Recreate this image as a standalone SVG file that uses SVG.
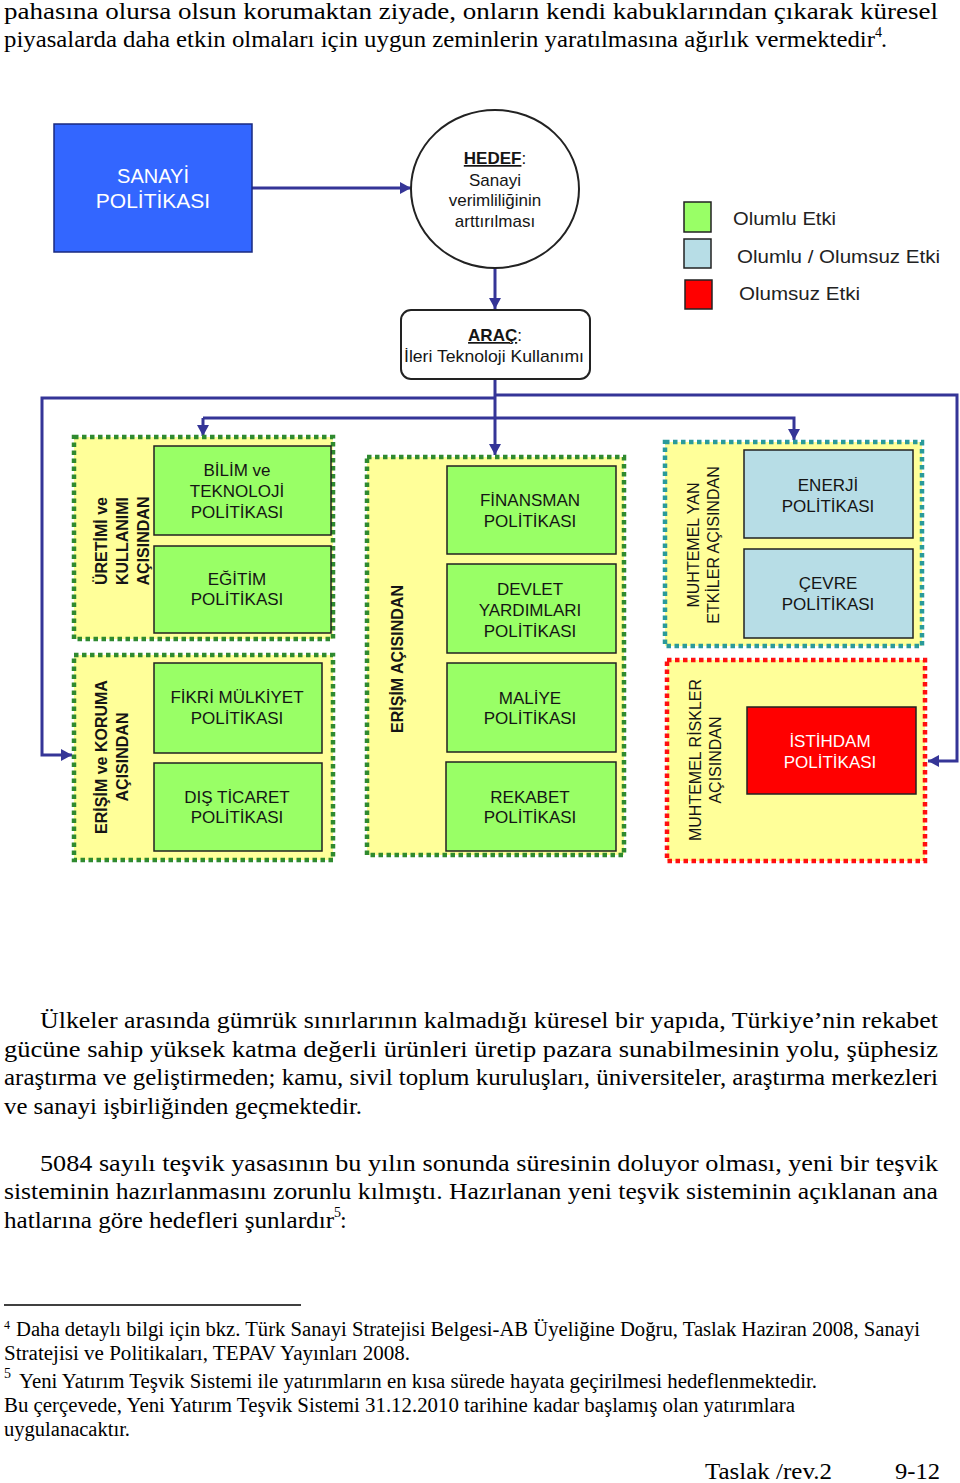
<svg xmlns="http://www.w3.org/2000/svg" width="960" height="1483" viewBox="0 0 960 1483">
<style>
.body{font-family:"Liberation Serif","Times New Roman",serif;font-size:24px;fill:#000}
.foot{font-family:"Liberation Serif","Times New Roman",serif;font-size:20px;fill:#000}
.sup{font-family:"Liberation Serif","Times New Roman",serif;font-size:14px;fill:#000}
.t{font-family:"Liberation Sans",Arial,sans-serif;font-size:17px;text-anchor:middle;fill:#151515}
.rb{font-family:"Liberation Sans",Arial,sans-serif;font-size:16px;font-weight:bold;text-anchor:middle;fill:#151515}
.rr{font-family:"Liberation Sans",Arial,sans-serif;font-size:16px;text-anchor:middle;fill:#151515}
.leg{font-family:"Liberation Sans",Arial,sans-serif;font-size:19px;fill:#222}
.grp{fill:#ffff99;stroke-width:4.5;stroke-dasharray:4.5 3.5}
.gg{stroke:#2f8a2f}
.gt{stroke:#2a9a9a}
.gr{stroke:#ff1010}
.box{stroke:#222;stroke-width:1.5}
.pos{fill:#99ff66}
.mix{fill:#b7dde6}
.neg{fill:#ff0000}
.conn{fill:none;stroke:#353597;stroke-width:3}
</style>
<defs>
<marker id="arr" markerUnits="userSpaceOnUse" markerWidth="12" markerHeight="12" refX="11" refY="6" orient="auto">
<path d="M0,0 L11,6 L0,12 z" fill="#353597"/>
</marker>
</defs>
<rect x="0" y="0" width="960" height="1483" fill="#fff"/>

<g id="text-top">
<text class="body" x="4" y="19" textLength="934" lengthAdjust="spacingAndGlyphs">pahasına olursa olsun korumaktan ziyade, onların kendi kabuklarından çıkarak küresel</text>
<text class="body" x="4" y="47" textLength="871" lengthAdjust="spacingAndGlyphs">piyasalarda daha etkin olmaları için uygun zeminlerin yaratılmasına ağırlık vermektedir</text>
<text class="sup" x="875" y="37">4</text>
<text class="body" x="881" y="47">.</text>
</g>

<g id="connectors">
<path class="conn" d="M252,188 L411,188" marker-end="url(#arr)"/>
<path class="conn" d="M495,268 L495,309" marker-end="url(#arr)"/>
<path class="conn" d="M495,379 L495,455" marker-end="url(#arr)"/>
<path class="conn" d="M495,398 L42,398 L42,755 L72,755" marker-end="url(#arr)"/>
<path class="conn" d="M495,395 L957,395 L957,761 L928,761" marker-end="url(#arr)"/>
<path class="conn" d="M203,418 L203,436" marker-end="url(#arr)"/>
<path class="conn" d="M203,418 L794,418 L794,440" marker-end="url(#arr)"/>
</g>

<g id="sanayi">
<rect x="54" y="124" width="198" height="128" fill="#3366ff" stroke="#1a2a80" stroke-width="1.5"/>
<text class="t" x="153" y="183" style="font-size:20px;fill:#fff">SANAYİ</text>
<text class="t" x="153" y="208" style="font-size:21px;fill:#fff">POLİTİKASI</text>
</g>

<g id="hedef">
<ellipse cx="495" cy="189" rx="84" ry="79" fill="#fff" stroke="#222" stroke-width="2"/>
<text class="t" x="495" y="164"><tspan font-weight="bold" text-decoration="underline">HEDEF</tspan>:</text>
<text class="t" x="495" y="186">Sanayi</text>
<text class="t" x="495" y="206">verimliliğinin</text>
<text class="t" x="495" y="227">arttırılması</text>
</g>

<g id="arac">
<rect x="401" y="310" width="189" height="69" rx="10" fill="#fff" stroke="#222" stroke-width="2"/>
<text class="t" x="495" y="341"><tspan font-weight="bold" text-decoration="underline">ARAÇ</tspan>:</text>
<text class="t" x="494" y="362" textLength="180" lengthAdjust="spacingAndGlyphs">İleri Teknoloji Kullanımı</text>
</g>

<g id="legend">
<rect x="684" y="202" width="27" height="30" fill="#99ff66" stroke="#222" stroke-width="1.5"/>
<text class="leg" x="733" y="225" textLength="103" lengthAdjust="spacingAndGlyphs">Olumlu Etki</text>
<rect x="684" y="239" width="27" height="29" fill="#b7dde6" stroke="#222" stroke-width="1.5"/>
<text class="leg" x="737" y="263" textLength="203" lengthAdjust="spacingAndGlyphs">Olumlu / Olumsuz Etki</text>
<rect x="685" y="280" width="27" height="29" fill="#ff0000" stroke="#222" stroke-width="1.5"/>
<text class="leg" x="739" y="300" textLength="121" lengthAdjust="spacingAndGlyphs">Olumsuz Etki</text>
</g>

<g id="grp-uretim">
<rect class="grp gg" x="74" y="437" width="259" height="202"/>
<text class="rb" transform="translate(107,541) rotate(-90)">ÜRETİMİ ve</text>
<text class="rb" transform="translate(128,541) rotate(-90)">KULLANIMI</text>
<text class="rb" transform="translate(149,541) rotate(-90)">AÇISINDAN</text>
</g>
<g id="bilim">
<rect class="box pos" x="154" y="446" width="177" height="89"/>
<text class="t" x="237" y="476">BİLİM ve</text>
<text class="t" x="237" y="497">TEKNOLOJİ</text>
<text class="t" x="237" y="518">POLİTİKASI</text>
</g>
<g id="egitim">
<rect class="box pos" x="154" y="546" width="177" height="87"/>
<text class="t" x="237" y="585">EĞİTİM</text>
<text class="t" x="237" y="605">POLİTİKASI</text>
</g>

<g id="grp-koruma">
<rect class="grp gg" x="74" y="655" width="259" height="205"/>
<text class="rb" transform="translate(107,757) rotate(-90)">ERİŞİM ve KORUMA</text>
<text class="rb" transform="translate(128,757) rotate(-90)">AÇISINDAN</text>
</g>
<g id="fikri">
<rect class="box pos" x="154" y="663" width="168" height="90"/>
<text class="t" x="237" y="703">FİKRİ MÜLKİYET</text>
<text class="t" x="237" y="724">POLİTİKASI</text>
</g>
<g id="dis-ticaret">
<rect class="box pos" x="154" y="763" width="168" height="88"/>
<text class="t" x="237" y="803">DIŞ TİCARET</text>
<text class="t" x="237" y="823">POLİTİKASI</text>
</g>

<g id="grp-erisim">
<rect class="grp gg" x="367" y="457" width="257" height="398"/>
<text class="rb" transform="translate(403,659) rotate(-90)">ERİŞİM AÇISINDAN</text>
</g>
<g id="finansman">
<rect class="box pos" x="447" y="466" width="169" height="88"/>
<text class="t" x="530" y="506">FİNANSMAN</text>
<text class="t" x="530" y="527">POLİTİKASI</text>
</g>
<g id="devlet">
<rect class="box pos" x="447" y="564" width="169" height="89"/>
<text class="t" x="530" y="595">DEVLET</text>
<text class="t" x="530" y="616">YARDIMLARI</text>
<text class="t" x="530" y="637">POLİTİKASI</text>
</g>
<g id="maliye">
<rect class="box pos" x="447" y="663" width="169" height="89"/>
<text class="t" x="530" y="704">MALİYE</text>
<text class="t" x="530" y="724">POLİTİKASI</text>
</g>
<g id="rekabet">
<rect class="box pos" x="446" y="762" width="170" height="89"/>
<text class="t" x="530" y="803">REKABET</text>
<text class="t" x="530" y="823">POLİTİKASI</text>
</g>

<g id="grp-yan-etki">
<rect class="grp gt" x="665" y="442" width="257" height="204"/>
<text class="rr" transform="translate(699,545) rotate(-90)">MUHTEMEL YAN</text>
<text class="rr" transform="translate(719,545) rotate(-90)">ETKİLER AÇISINDAN</text>
</g>
<g id="enerji">
<rect class="box mix" x="744" y="450" width="169" height="88"/>
<text class="t" x="828" y="491">ENERJİ</text>
<text class="t" x="828" y="512">POLİTİKASI</text>
</g>
<g id="cevre">
<rect class="box mix" x="744" y="549" width="169" height="89"/>
<text class="t" x="828" y="589">ÇEVRE</text>
<text class="t" x="828" y="610">POLİTİKASI</text>
</g>

<g id="grp-riskler">
<rect class="grp gr" x="667" y="660" width="258" height="201"/>
<text class="rr" transform="translate(701,760) rotate(-90)">MUHTEMEL RİSKLER</text>
<text class="rr" transform="translate(721,760) rotate(-90)">AÇISINDAN</text>
</g>
<g id="istihdam">
<rect class="box neg" x="747" y="707" width="169" height="87"/>
<text class="t" x="830" y="747" style="fill:#fff">İSTİHDAM</text>
<text class="t" x="830" y="768" style="fill:#fff">POLİTİKASI</text>
</g>

<g id="text-body">
<text class="body" x="40" y="1028" textLength="898" lengthAdjust="spacingAndGlyphs">Ülkeler arasında gümrük sınırlarının kalmadığı küresel bir yapıda, Türkiye’nin rekabet</text>
<text class="body" x="4" y="1057" textLength="934" lengthAdjust="spacingAndGlyphs">gücüne sahip yüksek katma değerli ürünleri üretip pazara sunabilmesinin yolu, şüphesiz</text>
<text class="body" x="4" y="1085" textLength="934" lengthAdjust="spacingAndGlyphs">araştırma ve geliştirmeden; kamu, sivil toplum kuruluşları, üniversiteler, araştırma merkezleri</text>
<text class="body" x="4" y="1114" textLength="358" lengthAdjust="spacingAndGlyphs">ve sanayi işbirliğinden geçmektedir.</text>
<text class="body" x="40" y="1171" textLength="898" lengthAdjust="spacingAndGlyphs">5084 sayılı teşvik yasasının bu yılın sonunda süresinin doluyor olması, yeni bir teşvik</text>
<text class="body" x="4" y="1199" textLength="934" lengthAdjust="spacingAndGlyphs">sisteminin hazırlanmasını zorunlu kılmıştı. Hazırlanan yeni teşvik sisteminin açıklanan ana</text>
<text class="body" x="4" y="1228" textLength="330" lengthAdjust="spacingAndGlyphs">hatlarına göre hedefleri şunlardır</text>
<text class="sup" x="334" y="1217">5</text>
<text class="body" x="340" y="1228">:</text>
</g>

<g id="footnotes">
<line x1="4" y1="1305" x2="301" y2="1305" stroke="#000" stroke-width="1.3"/>
<text class="sup" x="4" y="1329" style="font-size:12px">4</text>
<text class="foot" x="16" y="1336" textLength="904" lengthAdjust="spacingAndGlyphs">Daha detaylı bilgi için bkz. Türk Sanayi Stratejisi Belgesi-AB Üyeliğine Doğru, Taslak Haziran 2008, Sanayi</text>
<text class="foot" x="4" y="1360" textLength="406" lengthAdjust="spacingAndGlyphs">Stratejisi ve Politikaları, TEPAV Yayınları 2008.</text>
<text class="sup" x="4" y="1378">5</text>
<text class="foot" x="19" y="1388" textLength="798" lengthAdjust="spacingAndGlyphs">Yeni Yatırım Teşvik Sistemi ile yatırımların en kısa sürede hayata geçirilmesi hedeflenmektedir.</text>
<text class="foot" x="4" y="1412" textLength="791" lengthAdjust="spacingAndGlyphs">Bu çerçevede, Yeni Yatırım Teşvik Sistemi 31.12.2010 tarihine kadar başlamış olan yatırımlara</text>
<text class="foot" x="4" y="1436" textLength="126" lengthAdjust="spacingAndGlyphs">uygulanacaktır.</text>
<text class="body" x="705" y="1479" textLength="127" lengthAdjust="spacingAndGlyphs">Taslak /rev.2</text>
<text class="body" x="895" y="1479" textLength="45" lengthAdjust="spacingAndGlyphs">9-12</text>
</g>
</svg>
